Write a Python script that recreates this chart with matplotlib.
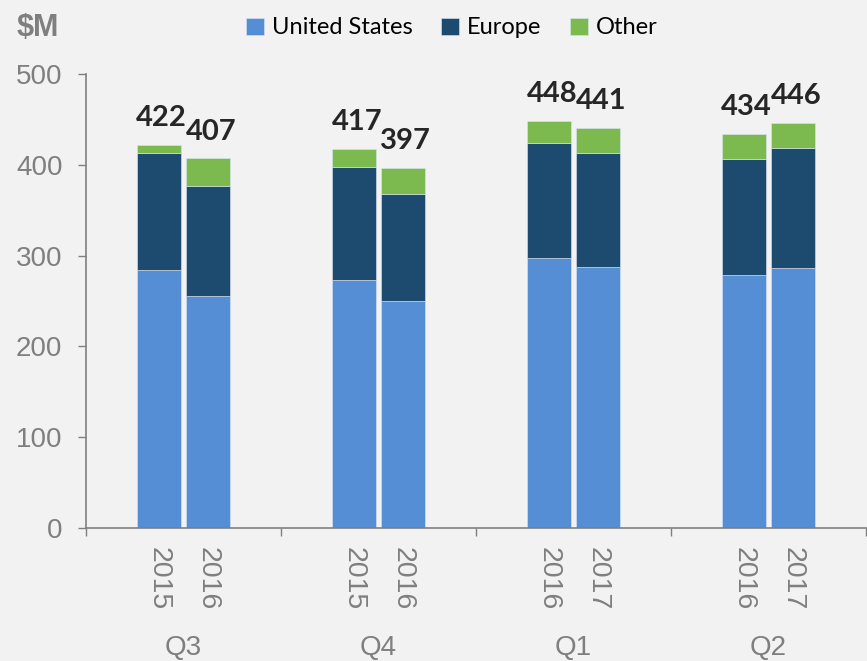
import numpy as np
import matplotlib
matplotlib.use("Agg")
import matplotlib.pyplot as plt
from matplotlib import transforms

# data ($M)
quarters = ["Q3", "Q4", "Q1", "Q2"]
years = [["2015", "2016"], ["2015", "2016"], ["2016", "2017"], ["2016", "2017"]]
us = [284, 255, 273, 250, 297, 287, 279, 286]
europe = [129, 122, 125, 118, 127, 126, 127, 132]
totals = [422, 407, 417, 397, 448, 441, 434, 446]
other = [t - u - e for t, u, e in zip(totals, us, europe)]

colors = {"United States": "#558ed5", "Europe": "#1d4a6f", "Other": "#7cb94e"}
gray = "#7f7f7f"
bg = "#f2f2f2"

fig = plt.figure(figsize=(8.67, 6.61), dpi=100, facecolor=bg)
ax = fig.add_axes([86 / 867, 133 / 661, 780 / 867, 454 / 661], facecolor=bg)

offset = 0.126
width = 0.226
xpos = []
for g in range(len(quarters)):
    xpos += [g - offset, g + offset]
xpos = np.array(xpos)

ax.bar(xpos, us, width, color=colors["United States"], label="United States",
       edgecolor="#dbe6f4", linewidth=0.4)
ax.bar(xpos, europe, width, bottom=us, color=colors["Europe"], label="Europe",
       edgecolor="#dbe6f4", linewidth=0.4)
ax.bar(xpos, other, width, bottom=np.array(us) + np.array(europe),
       color=colors["Other"], label="Other", edgecolor="#dbe6f4", linewidth=0.4)

# total labels
for x, t in zip(xpos, totals):
    ax.annotate(str(t), (x, t), xytext=(2, 10), textcoords="offset points",
                ha="center", va="bottom", fontsize=21, fontweight="bold",
                family="Lato", color="#262626")

ax.set_xlim(-0.5, len(quarters) - 0.5)
ax.set_ylim(0, 500)
ax.set_yticks(range(0, 501, 100))
ax.tick_params(axis="y", colors=gray, labelsize=20, length=6, width=1, pad=11)
for lbl in ax.get_yticklabels():
    lbl.set_family("Liberation Sans")

# year labels under each bar, separators between quarters
ax.set_xticks(xpos)
ax.set_xticklabels([y for pair in years for y in pair], rotation=270,
                   family="Liberation Sans", fontsize=20.5, color=gray)
ax.tick_params(axis="x", which="major", length=0, pad=14)
ax.set_xticks(np.arange(-0.5, len(quarters), 1.0), minor=True)
ax.tick_params(axis="x", which="minor", length=6, color=gray, width=1)

trans = transforms.blended_transform_factory(ax.transData, ax.transAxes)
for g, q in enumerate(quarters):
    ax.text(g, -0.265, q, transform=trans, ha="center", va="center",
            fontsize=20, color=gray, family="Liberation Sans")

for s in ["top", "right"]:
    ax.spines[s].set_visible(False)
for s in ["left", "bottom"]:
    ax.spines[s].set_color(gray)
    ax.spines[s].set_linewidth(1.2)

fig.text(17 / 867, 1 - 28 / 661, "$M", ha="left", va="center", fontsize=22,
         fontweight="bold", color=gray, family="Liberation Sans")

leg = fig.legend(loc="center", bbox_to_anchor=(452 / 867, 1 - 28 / 661), ncol=3,
                 frameon=False, handlelength=0.75, handleheight=0.75,
                 handletextpad=0.35, columnspacing=1.2,
                 prop={"family": "Lato", "size": 17})

plt.savefig("out.png", dpi=100, facecolor=bg)
